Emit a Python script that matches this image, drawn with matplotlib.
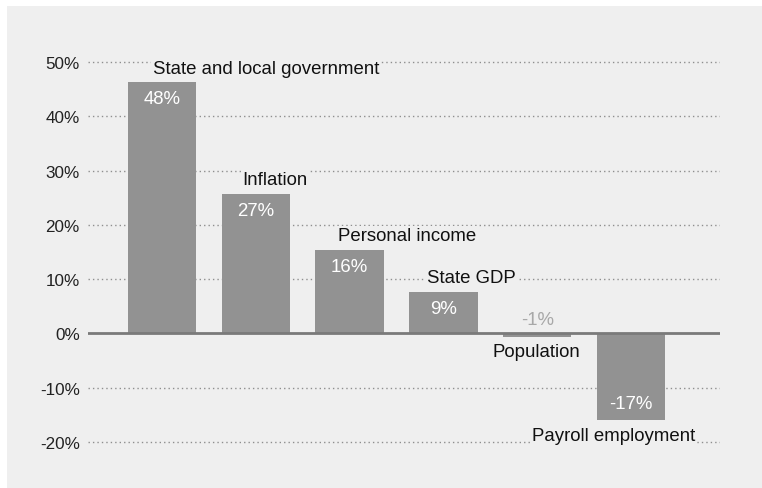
import matplotlib.pyplot as plt
from matplotlib.patches import Rectangle

# values as drawn (bar heights) and the printed labels
categories = ['State and local government', 'Inflation', 'Personal income',
              'State GDP', 'Population', 'Payroll employment']
values = [46.3, 25.7, 15.4, 7.7, -0.6, -16.0]
value_labels = ['48%', '27%', '16%', '9%', '-1%', '-17%']
y_ticks = [50, 40, 30, 20, 10, 0, -10, -20]

# where each category name sits relative to its bar (left edge, in bar units)
name_dx = [-0.10, -0.14, -0.12, -0.18, -0.48, -1.05]

plt.rcParams['font.family'] = ['Liberation Sans', 'DejaVu Sans']
FS = 13.4

fig = plt.figure(figsize=(7.62, 4.89), dpi=100)
fig.patch.set_facecolor('white')
fig.patches.append(Rectangle((7 / 762, 0), 1, (489 - 7) / 489,
                             transform=fig.transFigure, facecolor='#efefef',
                             edgecolor='none', zorder=-10))

ax = fig.add_axes([88 / 762, 19 / 489, (720 - 88) / 762, (453 - 19) / 489])
ax.set_facecolor('none')

x = list(range(len(values)))
bar_color = '#929292'
ax.bar(x, values, width=0.73, color=bar_color, zorder=3)

ax.set_xlim(-0.79, 5.95)
ax.set_ylim(-25, 55)
ax.set_yticks(y_ticks)
ax.set_yticklabels(['%d%%' % t for t in y_ticks])
ax.set_xticks([])
ax.tick_params(axis='y', length=0, pad=6, labelsize=12.3, labelcolor='#222222')
for s in ax.spines.values():
    s.set_visible(False)

for t in y_ticks:
    if t == 0:
        ax.axhline(0, color='#7a7a7a', lw=2, zorder=4)
    else:
        ax.axhline(t, color='#8f8f8f', lw=1, ls=(0, (1, 2.2)), zorder=1)

for i, (v, lab, name) in enumerate(zip(values, value_labels, categories)):
    if v >= 0:
        # category above the bar, value just inside the top
        ax.annotate(name, (i + name_dx[i], v), xytext=(0, 4),
                    textcoords='offset points', ha='left', va='bottom',
                    fontsize=FS, color='#111111', zorder=5,
                    bbox=dict(facecolor='#efefef', edgecolor='none', pad=1))
        if v > 2:
            ax.annotate(lab, (i, v), xytext=(0, -12),
                        textcoords='offset points', ha='center', va='center',
                        fontsize=FS, color='white', zorder=5)
    else:
        if v > -2:
            # tiny bar: value sits above the zero line in gray
            ax.annotate(lab, (i, 0), xytext=(0, 10),
                        textcoords='offset points', ha='center', va='center',
                        fontsize=FS, color='#a8a8a8', zorder=5)
            ax.annotate(name, (i + name_dx[i], 0), xytext=(0, -13),
                        textcoords='offset points', ha='left', va='center',
                        fontsize=FS, color='#111111', zorder=5)
        else:
            ax.annotate(lab, (i, v), xytext=(0, 12),
                        textcoords='offset points', ha='center', va='center',
                        fontsize=FS, color='white', zorder=5)
            ax.annotate(name, (i + name_dx[i], v), xytext=(0, -11),
                        textcoords='offset points', ha='left', va='center',
                        fontsize=FS, color='#111111', zorder=5,
                        bbox=dict(facecolor='#efefef', edgecolor='none', pad=1))

fig.savefig('out.png', dpi=100, facecolor=fig.get_facecolor())
